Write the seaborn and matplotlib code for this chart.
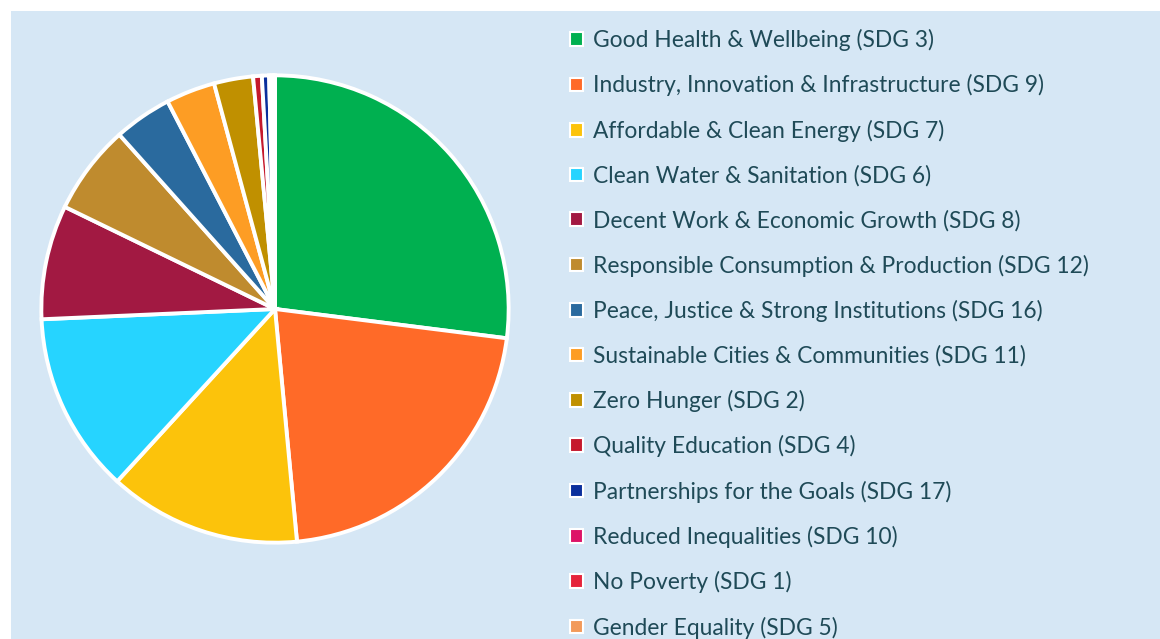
import matplotlib.pyplot as plt
import matplotlib.patches as mpatches
import seaborn as sns

labels = [
    'Good Health & Wellbeing (SDG 3)',
    'Industry, Innovation & Infrastructure (SDG 9)',
    'Affordable & Clean Energy (SDG 7)',
    'Clean Water & Sanitation (SDG 6)',
    'Decent Work & Economic Growth (SDG 8)',
    'Responsible Consumption & Production (SDG 12)',
    'Peace, Justice & Strong Institutions (SDG 16)',
    'Sustainable Cities & Communities (SDG 11)',
    'Zero Hunger (SDG 2)',
    'Quality Education (SDG 4)',
    'Partnerships for the Goals (SDG 17)',
    'Reduced Inequalities (SDG 10)',
    'No Poverty (SDG 1)',
    'Gender Equality (SDG 5)',
]
shares = [27.0, 21.5, 13.3, 12.5, 7.9, 6.2, 4.0, 3.4, 2.7, 0.6, 0.5, 0.2, 0.1, 0.1]
colors = ['#00B050', '#FF6A28', '#FCC30B', '#26D4FF', '#A21942', '#BF8B2E',
          '#2A6A9E', '#FD9D24', '#C09000', '#C5192D', '#0A2F9C', '#DD1367',
          '#E5243B', '#F29A5A']

bg = '#D6E7F5'
text_color = '#1F4A57'


def main():
    sns.set_theme(style='white')
    plt.rcParams['font.family'] = ['Lato', 'DejaVu Sans']

    palette = sns.color_palette(colors)

    fig = plt.figure(figsize=(11.6, 6.39), dpi=100)
    fig.patch.set_facecolor('white')
    fig.add_artist(mpatches.Rectangle((11 / 1160, 0), 1, 1 - 11 / 639,
                                      transform=fig.transFigure,
                                      facecolor=bg, edgecolor='none', zorder=0))

    W, H = 1160, 639
    cx, cy, r = 275, 309, 236
    ax = fig.add_axes([(cx - r) / W, (H - cy - r) / H, 2 * r / W, 2 * r / H])
    ax.set_facecolor('none')
    wedges, _ = ax.pie(shares, colors=palette, startangle=90, counterclock=False,
                       radius=1,
                       wedgeprops=dict(edgecolor='white', linewidth=2.8))
    ax.set_xlim(-1.01, 1.01)
    ax.set_ylim(-1.01, 1.01)
    ax.set_aspect('equal')
    ax.axis('off')

    handles = [mpatches.Patch(facecolor=c, edgecolor='white', linewidth=1.5)
               for c in palette]
    leg = fig.legend(handles, labels, loc='upper left',
                     bbox_to_anchor=(570 / W, 1 - 29 / H),
                     frameon=False, fontsize=16.4,
                     handlelength=0.55, handleheight=0.55, handletextpad=0.45,
                     labelspacing=1.02, borderaxespad=0, borderpad=0)
    for t in leg.get_texts():
        t.set_color(text_color)

    plt.savefig('out.png', dpi=100)


if __name__ == '__main__':
    main()
